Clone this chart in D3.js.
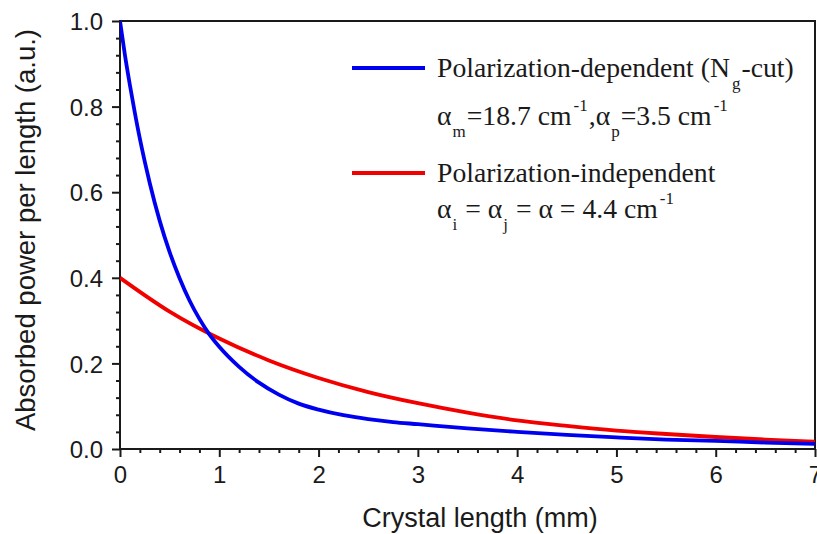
<!DOCTYPE html>
<html>
<head>
<meta charset="utf-8">
<script src="https://cdn.jsdelivr.net/npm/d3@7"></script>
<style>
  html, body { margin: 0; padding: 0; background: #fff; }
  svg { display: block; }
</style>
</head>
<body>
<svg id="chart" width="817" height="534"></svg>
<script>
// Crystal length (mm) sample positions and absorbed power per length (a.u.)
const depX = [0, 0.05, 0.1, 0.15, 0.2, 0.25, 0.3, 0.4, 0.5, 0.6, 0.7, 0.8, 0.9, 1.0, 1.2, 1.4, 1.6, 1.8, 2.0, 2.25, 2.5, 2.75, 3.0, 3.5, 4.0, 4.5, 5.0, 5.5, 6.0, 6.5, 7.0];
const depY = [1.000, 0.920, 0.850, 0.785, 0.725, 0.671, 0.621, 0.533, 0.460, 0.399, 0.347, 0.304, 0.268, 0.239, 0.192, 0.155, 0.127, 0.106, 0.092, 0.079, 0.070, 0.063, 0.058, 0.048, 0.040, 0.033, 0.027, 0.022, 0.019, 0.015, 0.012];

const indX = [0, 0.5, 1.0, 1.5, 2.0, 2.5, 3.0, 3.5, 4.0, 4.5, 5.0, 5.5, 6.0, 6.5, 7.0];
const indY = [0.400, 0.321, 0.258, 0.207, 0.166, 0.133, 0.107, 0.085, 0.067, 0.054, 0.043, 0.035, 0.028, 0.022, 0.017];

const xTicks = [0, 1, 2, 3, 4, 5, 6, 7];
const yTicks = [0.0, 0.2, 0.4, 0.6, 0.8, 1.0];

const svg = d3.select("#chart");
const plotL = 120, plotR = 815, plotT = 21, plotB = 449;

const x = d3.scaleLinear().domain([0, 7]).range([plotL, plotR]);
const y = d3.scaleLinear().domain([0, 1]).range([plotB, plotT]);

const sans = "'Liberation Sans', Arial, sans-serif";
const serif = "'Liberation Serif', 'Times New Roman', serif";
const ink = "#1a1a1a";

// minor ticks
const xMinor = d3.range(0, 7.0001, 0.2).filter(v => Math.abs(v - Math.round(v)) > 1e-6);
const yMinor = d3.range(0, 1.0001, 0.04).filter(v => Math.abs(v * 5 - Math.round(v * 5)) > 1e-6);

svg.append("g").attr("transform", `translate(0,${plotB})`)
  .call(d3.axisBottom(x).tickValues(xMinor).tickSize(4).tickFormat(""))
  .call(g => g.select(".domain").remove())
  .call(g => g.selectAll("line").attr("stroke", ink).attr("stroke-width", 2));
svg.append("g").attr("transform", `translate(${plotL},0)`)
  .call(d3.axisLeft(y).tickValues(yMinor).tickSize(4).tickFormat(""))
  .call(g => g.select(".domain").remove())
  .call(g => g.selectAll("line").attr("stroke", ink).attr("stroke-width", 2));

// major axes
const xAxis = svg.append("g").attr("transform", `translate(0,${plotB})`)
  .call(d3.axisBottom(x).tickValues(xTicks).tickSize(8).tickPadding(9).tickFormat(d3.format("d")));
const yAxis = svg.append("g").attr("transform", `translate(${plotL},0)`)
  .call(d3.axisLeft(y).tickValues(yTicks).tickSize(8).tickPadding(9).tickFormat(d3.format(".1f")));
[xAxis, yAxis].forEach(g => {
  g.select(".domain").remove();
  g.selectAll("line").attr("stroke", ink).attr("stroke-width", 2);
  g.selectAll("text").attr("fill", ink).style("font-family", sans).style("font-size", "24px");
});
yAxis.selectAll("text").attr("dy", "0.36em");

// frame
svg.append("rect").attr("x", plotL).attr("y", plotT)
  .attr("width", plotR - plotL).attr("height", plotB - plotT)
  .attr("fill", "none").attr("stroke", ink).attr("stroke-width", 2);

// curves
svg.append("clipPath").attr("id", "plot-clip").append("rect")
  .attr("x", plotL).attr("y", plotT - 2).attr("width", plotR - plotL).attr("height", plotB - plotT + 2);
const line = d3.line().x(d => x(d[0])).y(d => y(d[1])).curve(d3.curveMonotoneX);
const plot = svg.append("g").attr("clip-path", "url(#plot-clip)");
plot.append("path").datum(indX.map((v, i) => [v, indY[i]]))
  .attr("d", line).attr("fill", "none").attr("stroke", "#f20000").attr("stroke-width", 3.8);
plot.append("path").datum(depX.map((v, i) => [v, depY[i]]))
  .attr("d", line).attr("fill", "none").attr("stroke", "#0000f0").attr("stroke-width", 3.8);

// axis titles
svg.append("text").attr("x", 480).attr("y", 527).attr("text-anchor", "middle")
  .attr("fill", ink).style("font-family", sans).style("font-size", "27px")
  .text("Crystal length (mm)");
svg.append("text").attr("transform", "translate(35,230) rotate(-90)").attr("text-anchor", "middle")
  .attr("fill", ink).style("font-family", sans).style("font-size", "27.5px")
  .text("Absorbed power per length (a.u.)");

// legend
const lg = svg.append("g").style("font-family", serif).attr("fill", ink);
lg.append("line").attr("x1", 352).attr("x2", 425).attr("y1", 68).attr("y2", 68)
  .attr("stroke", "#0000f0").attr("stroke-width", 3.8);
lg.append("line").attr("x1", 352).attr("x2", 425).attr("y1", 173).attr("y2", 173)
  .attr("stroke", "#f20000").attr("stroke-width", 3.8);

function richText(xPos, yPos, parts) {
  const t = lg.append("text").attr("x", xPos).attr("y", yPos).style("font-size", "27.7px");
  parts.forEach(p => {
    const s = t.append("tspan").text(p.t);
    if (p.sub) s.attr("dy", 12).style("font-size", "17px");
    else if (p.sup) s.attr("dy", -14).style("font-size", "17px");
    if (p.back) s.attr("dy", p.back);
    if (p.dx) s.attr("dx", p.dx);
  });
}
richText(437, 77, [
  {t: "Polarization-dependent (N"}, {t: "g", sub: true, dx: 2}, {t: "-cut)", back: -12, dx: 1}
]);
richText(437, 125, [
  {t: "\u03b1"}, {t: "m", sub: true, dx: 1}, {t: "=18.7 cm", back: -12, dx: 1},
  {t: "-1", sup: true, dx: 2}, {t: ",\u03b1", back: 14, dx: 1}, {t: "p", sub: true, dx: 1},
  {t: "=3.5 cm", back: -12, dx: 1}, {t: "-1", sup: true, dx: 2}
]);
richText(437, 182, [{t: "Polarization-independent"}]);
richText(437, 218, [
  {t: "\u03b1"}, {t: "i", sub: true, dx: 1}, {t: " = \u03b1", back: -12, dx: 1},
  {t: "j", sub: true, dx: 1}, {t: " = \u03b1 = 4.4 cm", back: -12, dx: 1}, {t: "-1", sup: true, dx: 2}
]);
</script>
</body>
</html>
